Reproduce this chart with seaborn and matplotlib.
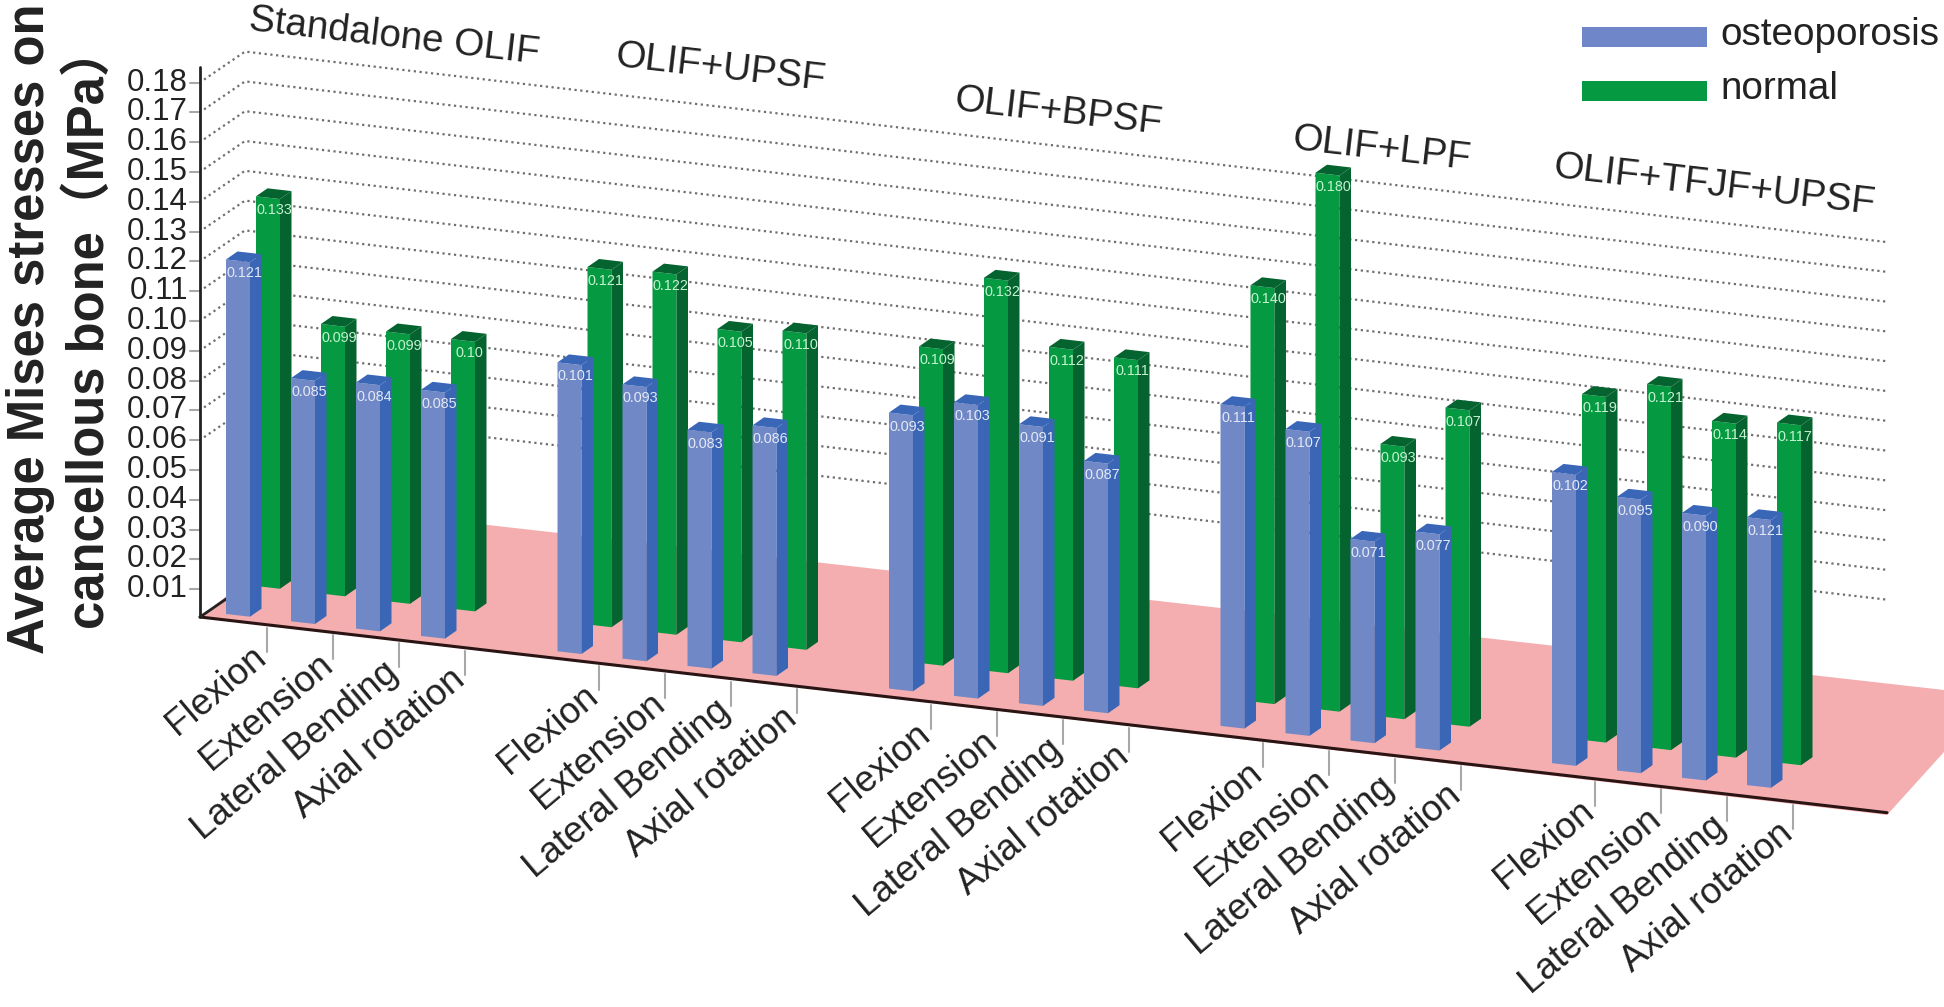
import numpy as np
import matplotlib
matplotlib.use("Agg")
import matplotlib.pyplot as plt
from matplotlib.patches import Polygon, Rectangle
from matplotlib.transforms import Affine2D
import seaborn as sns

# values (bar heights differ from the printed labels in a few places)
groups = ['Standalone OLIF', 'OLIF+UPSF', 'OLIF+BPSF', 'OLIF+LPF', 'OLIF+TFJF+UPSF']
motions = ['Flexion', 'Extension', 'Lateral Bending', 'Axial rotation']
series = ['osteoporosis', 'normal']
y_ticks = [round(0.01 * i, 2) for i in range(1, 19)]

osteo_height = [0.121, 0.083, 0.084, 0.084,
                0.0986, 0.0936, 0.0806, 0.0846,
                0.0942, 0.1002, 0.0952, 0.0852,
                0.1098, 0.1038, 0.0688, 0.0738,
                0.0994, 0.0934, 0.0904, 0.0914]
normal_height = [0.133, 0.092, 0.092, 0.092,
                 0.122, 0.123, 0.106, 0.108,
                 0.108, 0.134, 0.113, 0.112,
                 0.142, 0.183, 0.093, 0.108,
                 0.118, 0.124, 0.114, 0.116]
osteo_label = ['0.121', '0.085', '0.084', '0.085',
               '0.101', '0.093', '0.083', '0.086',
               '0.093', '0.103', '0.091', '0.087',
               '0.111', '0.107', '0.071', '0.077',
               '0.102', '0.095', '0.090', '0.121']
normal_label = ['0.133', '0.099', '0.099', '0.10',
                '0.121', '0.122', '0.105', '0.110',
                '0.109', '0.132', '0.112', '0.111',
                '0.140', '0.180', '0.093', '0.107',
                '0.119', '0.121', '0.114', '0.117']

# oblique projection settings, all in image pixels
W, H = 1944, 1007
SLOPE = 0.116
OSTEO_SLOPE = 0.1125
ORIGIN = (200, 617)
AXIS_END = 1887
AXIS_SCALE = 2980
BAR_SCALE = 2930
BAR_STEP = 65
BAR_W = 24 / BAR_STEP
SIDE = (11.5, -8)
GROUP_GAP = 5.1
WALL = (45, -31)

sns.set_theme(style="white")
plt.rcParams['font.family'] = ['Liberation Sans', 'DejaVu Sans']

fig = plt.figure(figsize=(W / 100, H / 100), dpi=100)
ax = fig.add_axes([0, 0, 1, 1])

slots = np.array([g * GROUP_GAP + m for g in range(len(groups)) for m in range(len(motions))])


def axis_y(v):
    return ORIGIN[1] - AXIS_SCALE * v


def bar_transform(x_left, y_base, slope):
    # slot/value -> pixels: bottom and top edges of a bar follow the floor slope
    x0 = x_left + BAR_W * BAR_STEP / 2
    y0 = y_base + slope * (x0 - x_left)
    return Affine2D.from_values(BAR_STEP, slope * BAR_STEP, 0, -BAR_SCALE, x0, y0)


# floor
ax.add_patch(Polygon([ORIGIN, (338, 508), (W, 690), (W, 752), (AXIS_END, 815)],
                     closed=True, fc='#f5aeb0', ec='none', zorder=1))

# dotted wall lines, only drawn from 0.06 upward
for v in y_ticks[5:]:
    y = axis_y(v) + 2
    xs = [ORIGIN[0] + 4, ORIGIN[0] + WALL[0], AXIS_END]
    ys = [y - 3, y + WALL[1], y + WALL[1] + SLOPE * (AXIS_END - ORIGIN[0] - WALL[0])]
    ax.plot(xs, ys, color='#6f6f6f', lw=1.6, ls=(0, (1, 1.6)), zorder=2)


def draw_bars(heights, labels, x_left, y_base, slope, front, side, top, text_c, z):
    sns.barplot(x=slots, y=heights, native_scale=True, width=BAR_W, color=front,
                saturation=1, errorbar=None, linewidth=0, ax=ax, zorder=z)
    tf = bar_transform(x_left, y_base, slope)
    for patch, lab in zip(ax.containers[-1], labels):
        patch.set_transform(tf + ax.transData)
        x = patch.get_x()
        w = patch.get_width()
        h = patch.get_height()
        (lx, ly0), (rx, ry0), (_, ry1), (_, ly1) = tf.transform([(x, 0), (x + w, 0), (x + w, h), (x, h)])
        ax.add_patch(Polygon([(rx, ry0), (rx + SIDE[0], ry0 + SIDE[1]),
                              (rx + SIDE[0], ry1 + SIDE[1]), (rx, ry1)],
                             closed=True, fc=side, ec='none', zorder=z))
        ax.add_patch(Polygon([(lx, ly1), (rx, ry1), (rx + SIDE[0], ry1 + SIDE[1]),
                              (lx + SIDE[0], ly1 + SIDE[1])],
                             closed=True, fc=top, ec='none', zorder=z))
        ax.text(lx + 18, ly1 + 14, lab, color=text_c, fontsize=10.4, ha='center', va='center',
                zorder=z + 0.5)


draw_bars(normal_height, normal_label, 256, 586, SLOPE, '#059a41', '#04632f', '#04632f', '#c4f2d0', 3)
draw_bars(osteo_height, osteo_label, 226, 614, OSTEO_SLOPE, '#7088c6', '#3a66b5', '#3a66b8', '#e3e9f6', 4)

# axes lines
ax.plot([ORIGIN[0], ORIGIN[0]], [ORIGIN[1], 67], color='#222222', lw=2, zorder=5)
ax.plot([ORIGIN[0], AXIS_END], [ORIGIN[1], ORIGIN[1] + SLOPE * (AXIS_END - ORIGIN[0])],
        color='#2a1414', lw=2.2, zorder=2.5)
ax.plot([ORIGIN[0], ORIGIN[0] + WALL[0]], [ORIGIN[1], ORIGIN[1] + WALL[1]],
        color='#222222', lw=2, zorder=2.5)

for v in y_ticks:
    y = axis_y(v) + 2
    ax.plot([190, ORIGIN[0]], [y, y], color='#a8a8a8', lw=1.5, zorder=4)
    ax.text(188, y, f'{v:.2f}', fontsize=22.5, color='#222222', ha='right', va='center')

# category ticks and slanted labels
for g in range(len(groups)):
    for m, name in enumerate(motions):
        tx = 267 + 332 * g + 66 * m
        ty = ORIGIN[1] + SLOPE * (tx - ORIGIN[0])
        ax.plot([tx, tx], [ty + 3, ty + 27], color='#a8a8a8', lw=1.5, zorder=2)
        ax.text(tx - 5, ty + 28, name, fontsize=26.5, color='#222222', rotation=40,
                rotation_mode='anchor', ha='right', va='center')

# group titles
title_pos = [(394, 37), (720, 68), (1058, 112), (1381, 149), (1714, 186)]
for name, (tx, ty) in zip(groups, title_pos):
    ax.text(tx, ty, name, fontsize=27.8, color='#222222', rotation=-6.6,
            rotation_mode='anchor', ha='center', va='center')

# y label, two lines set apart by hand
ax.text(31, 329, 'Average Mises stresses on', fontsize=36.5, fontweight='bold', color='#222222',
        rotation=90, ha='center', va='center')
ax.text(90, 327, 'cancellous bone\uff08MPa\uff09', fontsize=36.5, fontweight='bold', color='#222222',
        rotation=90, ha='center', va='center', family=['Liberation Sans', 'Noto Sans CJK SC'])

# legend
for name, c, y in zip(series, ['#6f87c9', '#059a41'], [27, 81]):
    ax.add_patch(Rectangle((1582, y), 125, 19.5, fc=c, ec='none', zorder=5))
    ax.text(1720, y + 18, name, fontsize=27.8, color='#222222', ha='left', va='baseline')

ax.set_xlim(0, W)
ax.set_ylim(H, 0)
ax.set_axis_off()
fig.savefig('out.png', dpi=100)
